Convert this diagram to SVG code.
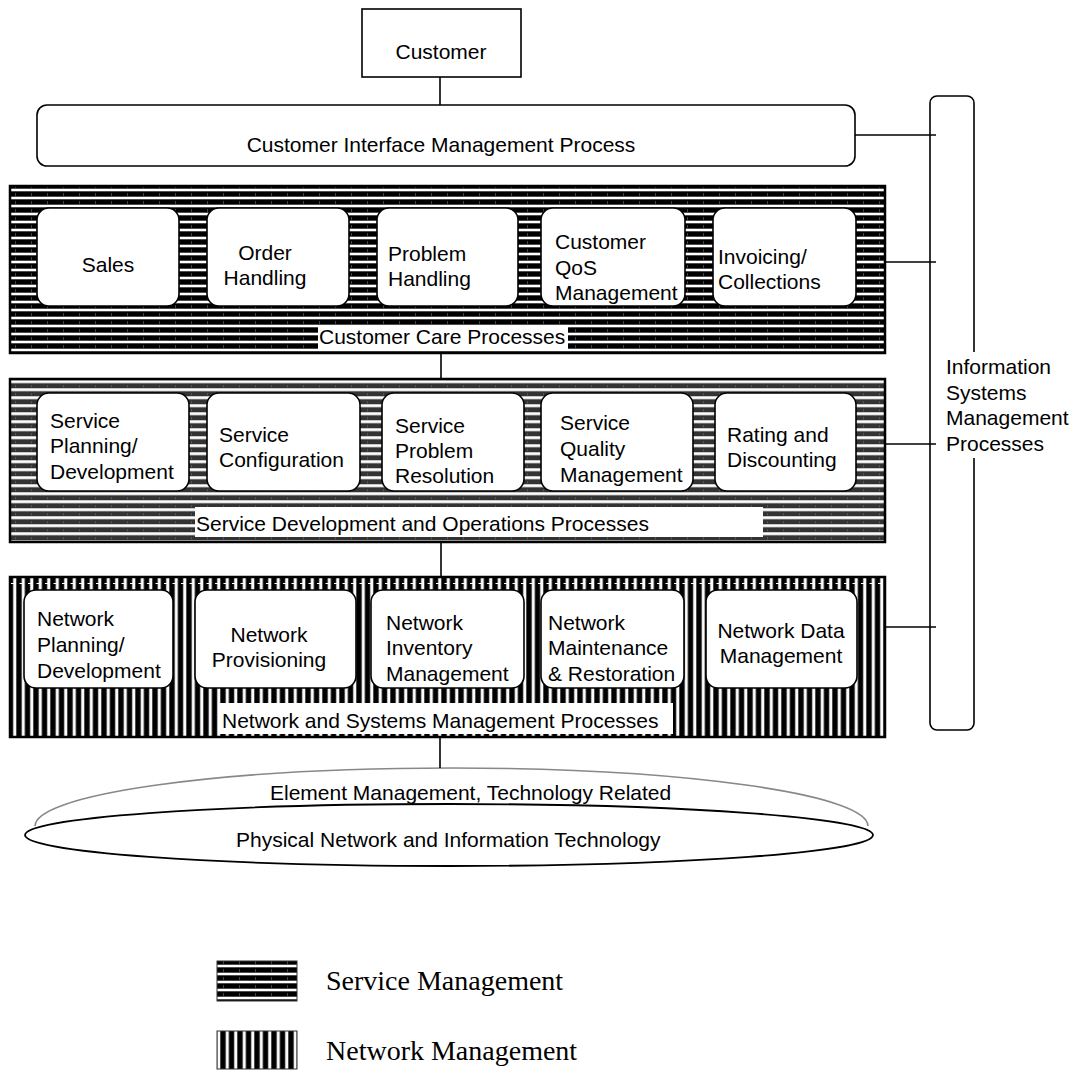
<svg xmlns="http://www.w3.org/2000/svg" width="1077" height="1070" viewBox="0 0 1077 1070">
<defs>
<pattern id="hs" width="16" height="8" patternUnits="userSpaceOnUse">
<rect width="16" height="8" fill="#000"/>
<rect y="4.5" width="16" height="3" fill="#999"/>
<rect y="5" width="16" height="2" fill="#fff"/>
<rect x="15" y="1" width="1" height="3" fill="#444"/>
</pattern>
<pattern id="hs2" width="16" height="8" patternUnits="userSpaceOnUse">
<rect width="16" height="8" fill="#333"/>
<rect y="4" width="16" height="3.5" fill="#aaa"/>
<rect y="4.7" width="16" height="2" fill="#fff"/>
<rect x="15" y="1" width="1" height="2.5" fill="#555"/>
</pattern>
<pattern id="vs" width="8.5" height="16" patternUnits="userSpaceOnUse">
<rect width="8.5" height="16" fill="#000"/>
<rect x="4.5" width="3.5" height="16" fill="#999"/>
<rect x="5" width="2.5" height="16" fill="#fff"/>
</pattern>
</defs>
<style>
.t{font-family:"Liberation Sans",Arial,sans-serif;font-size:21px;fill:#000}
.m{text-anchor:middle}
.lg{font-family:"Liberation Serif","Times New Roman",serif;font-size:28px;fill:#000}
.box{fill:#fff;stroke:#000;stroke-width:1.6}
.layer{stroke:#000;stroke-width:2.5}
.ln{stroke:#000;stroke-width:1.6;fill:none}
.lbl{fill:#fff}
</style>

<g id="customer">
<rect x="362" y="9" width="159" height="68" fill="#fff" stroke="#000" stroke-width="1.6"/>
<text class="t m" x="441" y="59">Customer</text>
</g>

<g id="cim">
<rect x="37" y="105" width="818" height="61" rx="10" class="box"/>
<text class="t m" x="441" y="152">Customer Interface Management Process</text>
</g>

<g id="isms">
<rect x="930" y="96" width="44" height="634" rx="7" class="box"/>
<rect x="941" y="352" width="134" height="106" class="lbl"/>
<text class="t" x="946" y="374">Information</text>
<text class="t" x="946" y="400">Systems</text>
<text class="t" x="946" y="425">Management</text>
<text class="t" x="946" y="451">Processes</text>
</g>

<g id="customer-care">
<rect x="10" y="186" width="875" height="167" fill="url(#hs)" class="layer"/>
<rect x="318" y="325" width="250" height="25" class="lbl"/>
<text class="t" x="319" y="344">Customer Care Processes</text>
</g>
<g id="sales"><rect x="37" y="208" width="142" height="98" rx="12" class="box"/><text class="t m" x="108" y="272">Sales</text></g>
<g id="order-handling"><rect x="207" y="208" width="142" height="98" rx="12" class="box"/><text class="t m" x="265" y="260">Order</text><text class="t m" x="265" y="285">Handling</text></g>
<g id="problem-handling"><rect x="377" y="208" width="141" height="98" rx="12" class="box"/><text class="t" x="388" y="261">Problem</text><text class="t" x="388" y="286">Handling</text></g>
<g id="customer-qos"><rect x="541" y="208" width="144" height="98" rx="12" class="box"/><text class="t" x="555" y="249">Customer</text><text class="t" x="555" y="275">QoS</text><text class="t" x="555" y="300">Management</text></g>
<g id="invoicing"><rect x="713" y="208" width="143" height="98" rx="12" class="box"/><text class="t" x="718" y="264">Invoicing/</text><text class="t" x="718" y="289">Collections</text></g>

<g id="service-dev">
<rect x="10" y="379" width="875" height="163" fill="url(#hs2)" class="layer"/>
<rect x="195" y="507" width="568" height="30" class="lbl"/>
<text class="t" x="196" y="531">Service Development and Operations Processes</text>
</g>
<g id="service-planning"><rect x="37" y="393" width="152" height="98" rx="12" class="box"/><text class="t" x="50" y="428">Service</text><text class="t" x="50" y="453">Planning/</text><text class="t" x="50" y="479">Development</text></g>
<g id="service-config"><rect x="207" y="393" width="153" height="98" rx="12" class="box"/><text class="t" x="219" y="442">Service</text><text class="t" x="219" y="467">Configuration</text></g>
<g id="service-problem"><rect x="382" y="393" width="142" height="98" rx="12" class="box"/><text class="t" x="395" y="433">Service</text><text class="t" x="395" y="458">Problem</text><text class="t" x="395" y="483">Resolution</text></g>
<g id="service-quality"><rect x="541" y="393" width="152" height="98" rx="12" class="box"/><text class="t" x="560" y="430">Service</text><text class="t" x="560" y="456">Quality</text><text class="t" x="560" y="482">Management</text></g>
<g id="rating"><rect x="715" y="393" width="141" height="98" rx="12" class="box"/><text class="t" x="727" y="442">Rating and</text><text class="t" x="727" y="467">Discounting</text></g>

<g id="network-sys">
<rect x="10" y="577" width="875" height="160" fill="url(#vs)" class="layer"/>
<line x1="11" y1="583.5" x2="884" y2="583.5" stroke="#fff" stroke-width="1.2" stroke-dasharray="4 4.5"/>
<rect x="218" y="703" width="455" height="31" class="lbl"/>
<text class="t" x="222" y="728">Network and Systems Management Processes</text>
</g>
<g id="network-planning"><rect x="24" y="590" width="149" height="98" rx="12" class="box"/><text class="t" x="37" y="626">Network</text><text class="t" x="37" y="652">Planning/</text><text class="t" x="37" y="678">Development</text></g>
<g id="network-prov"><rect x="195" y="590" width="161" height="98" rx="12" class="box"/><text class="t m" x="269" y="642">Network</text><text class="t m" x="269" y="667">Provisioning</text></g>
<g id="network-inv"><rect x="371" y="590" width="153" height="98" rx="12" class="box"/><text class="t" x="386" y="630">Network</text><text class="t" x="386" y="655">Inventory</text><text class="t" x="386" y="681">Management</text></g>
<g id="network-maint"><rect x="541" y="590" width="143" height="98" rx="12" class="box"/><text class="t" x="548" y="630">Network</text><text class="t" x="548" y="655">Maintenance</text><text class="t" x="548" y="681">&amp; Restoration</text></g>
<g id="network-data"><rect x="706" y="590" width="151" height="98" rx="12" class="box"/><text class="t m" x="781" y="638">Network Data</text><text class="t m" x="781" y="663">Management</text></g>

<g id="element-mgmt">
<path d="M 35 826 A 416.5 58 0 0 1 868 826" fill="#fff" stroke="#888" stroke-width="1.6"/>
<text class="t" x="270" y="800">Element Management, Technology Related</text>
</g>
<g id="physical-network">
<ellipse cx="449" cy="835" rx="424" ry="31" fill="#fff" stroke="#000" stroke-width="1.8"/>
<text class="t" x="236" y="847">Physical Network and Information Technology</text>
</g>

<g id="connectors">
<line class="ln" x1="440" y1="77" x2="440" y2="105"/>
<line class="ln" x1="855" y1="135" x2="936" y2="135"/>
<line class="ln" x1="885" y1="262" x2="936" y2="262"/>
<line class="ln" x1="885" y1="444" x2="936" y2="444"/>
<line class="ln" x1="885" y1="627" x2="936" y2="627"/>
<line class="ln" x1="441" y1="353" x2="441" y2="379"/>
<line class="ln" x1="441" y1="542" x2="441" y2="577"/>
<line class="ln" x1="440" y1="737" x2="440" y2="768"/>
</g>

<g id="legend">
<rect x="217" y="961" width="80" height="40" fill="url(#hs)" stroke="#333" stroke-width="1"/>
<text class="lg" x="326" y="990">Service Management</text>
<rect x="217" y="1031" width="80" height="38" fill="url(#vs)" stroke="#333" stroke-width="1"/>
<text class="lg" x="326" y="1060">Network Management</text>
</g>
</svg>
